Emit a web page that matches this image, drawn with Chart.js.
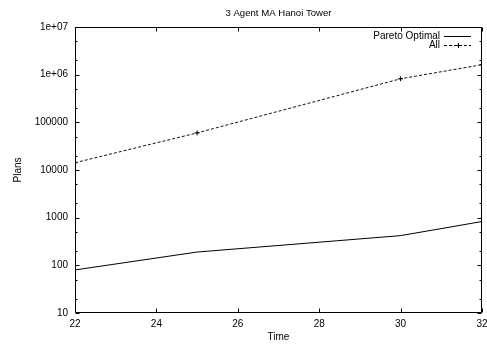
<!DOCTYPE html>
<html>
<head>
<meta charset="utf-8">
<script src="https://cdn.jsdelivr.net/npm/chart.js@4"></script>
<style>
html,body{margin:0;padding:0;background:#fff;}
#wrap{width:487px;height:347px;position:relative;}
</style>
</head>
<body>
<div id="wrap"><canvas id="c"></canvas></div>
<script>
const times = [22, 25, 30, 32];
const paretoOptimal = [80, 190, 420, 830];
const allPlans = [14200, 60000, 820000, 1620000];
const xTickValues = [22, 24, 26, 28, 30, 32];
const yTickValues = [10, 100, 1000, 10000, 100000, 1000000, 10000000];
const yTickLabels = ['10', '100', '1000', '10000', '100000', '1e+06', '1e+07'];
const yMinorMultipliers = [2, 5];
const seriesNames = ['Pareto Optimal', 'All'];
const titleText = '3 Agent MA Hanoi Tower';

const FONT = 'Liberation Sans, Arial, Helvetica, sans-serif';

const framePlugin = {
  id: 'frame',
  afterDatasetsDraw(chart) {
    const ctx = chart.ctx;
    const a = chart.chartArea;
    const xs = chart.scales.x, ys = chart.scales.y;
    ctx.save();
    ctx.strokeStyle = '#000';
    ctx.lineWidth = 1;
    ctx.beginPath();
    const L = Math.round(a.left) + 0.5, R = Math.round(a.right) - 0.5;
    const T = Math.round(a.top) + 0.5, B = Math.round(a.bottom) - 0.5;
    ctx.rect(L, T, R - L, B - T);
    xTickValues.forEach(v => {
      const px = Math.round(xs.getPixelForValue(v)) + 0.5;
      ctx.moveTo(px, B); ctx.lineTo(px, B - 4);
      ctx.moveTo(px, T); ctx.lineTo(px, T + 4);
    });
    yTickValues.forEach(v => {
      const py = Math.round(ys.getPixelForValue(v)) + 0.5;
      ctx.moveTo(L, py); ctx.lineTo(L + 4, py);
      ctx.moveTo(R, py); ctx.lineTo(R - 4, py);
    });
    yTickValues.slice(0, -1).forEach(d => {
      yMinorMultipliers.forEach(m => {
        const py = Math.round(ys.getPixelForValue(d * m)) + 0.5;
        ctx.moveTo(L, py); ctx.lineTo(L + 2, py);
        ctx.moveTo(R, py); ctx.lineTo(R - 2, py);
      });
    });
    ctx.stroke();

    // title centred over plot area
    ctx.fillStyle = '#000';
    ctx.textAlign = 'center';
    ctx.textBaseline = 'middle';
    ctx.font = '9.6px ' + FONT;
    ctx.fillText(titleText, (a.left + a.right) / 2, 13.5);

    // key (gnuplot style: text right-aligned, sample to the right)
    ctx.font = '10px ' + FONT;
    ctx.textAlign = 'right';
    const textRight = 440, x0 = 444, x1 = 471;
    const rows = [36, 45];
    chart.data.datasets.forEach((ds, i) => {
      const y = rows[i];
      ctx.fillText(ds.label, textRight, y);
      ctx.beginPath();
      ctx.setLineDash(ds.borderDash || []);
      ctx.moveTo(x0, y + 0.5); ctx.lineTo(x1, y + 0.5);
      ctx.stroke();
      ctx.setLineDash([]);
      if (ds.pointRadius > 0) {
        const cx = Math.round((x0 + x1) / 2) + 0.5;
        ctx.beginPath();
        ctx.moveTo(cx - 2.5, y + 0.5); ctx.lineTo(cx + 2.5, y + 0.5);
        ctx.moveTo(cx, y - 2); ctx.lineTo(cx, y + 3);
        ctx.stroke();
      }
    });
    ctx.restore();
  }
};

new Chart(document.getElementById('c'), {
  type: 'line',
  data: {
    datasets: [
      {
        label: seriesNames[0],
        data: times.map((t, i) => ({x: t, y: paretoOptimal[i]})),
        borderColor: '#000',
        borderWidth: 1,
        pointRadius: 0,
        tension: 0
      },
      {
        label: seriesNames[1],
        data: times.map((t, i) => ({x: t, y: allPlans[i]})),
        borderColor: '#111',
        borderWidth: 1,
        borderDash: [3, 2],
        pointStyle: 'cross',
        pointRadius: 2.5,
        pointBorderColor: '#000',
        pointBorderWidth: 1,
        pointBackgroundColor: '#000',
        tension: 0
      }
    ]
  },
  options: {
    responsive: true,
    maintainAspectRatio: false,
    animation: false,
    events: [],
    layout: {padding: {left: 0, right: 5, top: 27, bottom: 0}},
    plugins: {
      legend: {display: false},
      tooltip: {enabled: false},
      title: {display: false}
    },
    scales: {
      x: {
        type: 'linear',
        min: 22, max: 32,
        afterBuildTicks: s => { s.ticks = xTickValues.map(v => ({value: v})); },
        afterFit: s => { s.height = 34; s.paddingLeft = 0; s.paddingRight = 0; },
        grid: {display: false, drawTicks: false},
        border: {display: false},
        ticks: {color: '#000', font: {family: FONT, size: 10}, padding: 5.5, maxRotation: 0, autoSkip: false},
        title: {display: true, text: 'Time', color: '#000', font: {family: FONT, size: 10}, padding: {top: 0, bottom: 3.5}}
      },
      y: {
        type: 'logarithmic',
        min: 10, max: 10000000,
        afterBuildTicks: s => { s.ticks = yTickValues.map(v => ({value: v})); },
        afterFit: s => { s.width = 75; s.paddingTop = 0; s.paddingBottom = 0; },
        grid: {display: false, drawTicks: false},
        border: {display: false},
        ticks: {
          color: '#000', font: {family: FONT, size: 10}, padding: 7, autoSkip: false,
          callback: (v, i) => yTickLabels[i]
        },
        title: {display: true, text: 'Plans', color: '#000', font: {family: FONT, size: 10}, padding: {top: 12, bottom: 0}}
      }
    }
  },
  plugins: [framePlugin]
});
</script>
</body>
</html>
